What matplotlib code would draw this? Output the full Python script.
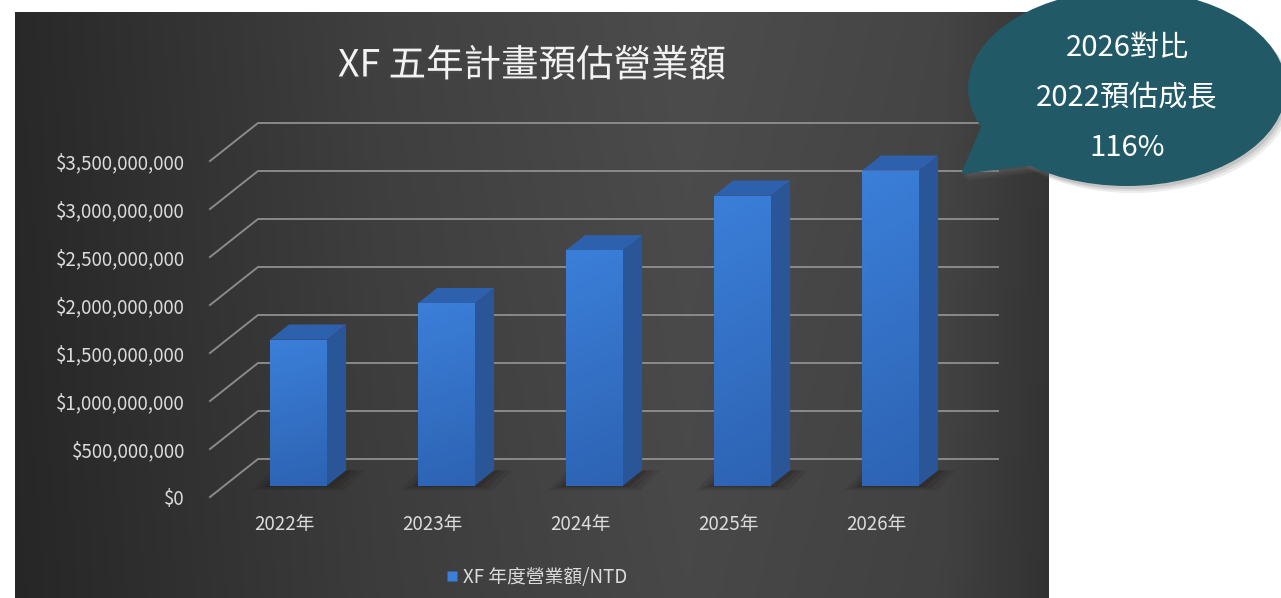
import numpy as np
import matplotlib.pyplot as plt
from matplotlib.patches import Polygon, Ellipse
from matplotlib.lines import Line2D
from matplotlib.colors import LinearSegmentedColormap
import matplotlib.patheffects as pe

plt.rcParams['font.family'] = ['Noto Sans CJK TC', 'DejaVu Sans']

# data
years = ["2022年", "2023年", "2024年", "2025年", "2026年"]
revenue = [1.52e9, 1.90e9, 2.45e9, 3.02e9, 3.28e9]
y_ticks = [0, 5e8, 1e9, 1.5e9, 2e9, 2.5e9, 3e9, 3.5e9]
series_name = "XF 年度營業額/NTD"
chart_title = "XF 五年計畫預估營業額"
callout_lines = ["2026對比", "2022預估成長", "116%"]

W, H = 1281, 598
fig = plt.figure(figsize=(W / 100, H / 100), dpi=100, facecolor='white')

# dark panel with soft gradient
bg = fig.add_axes([15 / W, 0, (1049 - 15) / W, (598 - 12) / H])
xs = np.linspace(0, 1, 300)
prof = np.interp(xs, [0, 0.35, 0.65, 0.9, 1], [0.16, 0.25, 0.30, 0.27, 0.21])
ys = np.linspace(0, 1, 100)[:, None]
shade = prof[None, :] * (0.94 + 0.06 * ys)
bg.imshow(np.dstack([shade] * 3), aspect='auto', extent=[0, 1, 0, 1], origin='lower')
bg.set_xlim(0, 1)
bg.set_ylim(0, 1)
bg.axis('off')

# front plane of the 3D box
ax = fig.add_axes([210 / W, 101 / H, 740 / W, 336 / H])
ax.set_facecolor('none')
ymax = 3.5e9
px_x = 740 / 5          # pixels per category
px_y = 336 / ymax       # pixels per unit value
dx = 48 / px_x          # depth offset, data units
dy = 38 / px_y

grid_col = '#8a8a8a'
for v in y_ticks:
    ax.plot([-0.5, -0.5 + dx, 4.5 + dx], [v, v + dy, v + dy], color=grid_col,
            lw=1.4, clip_on=False, zorder=1)

bw = 57 / px_x
f0, bd = 0.30, 0.40
front_cmap = LinearSegmentedColormap.from_list('front', ['#2d63b3', '#3b7fd9'])
for i, v in enumerate(revenue):
    x0 = i - bw / 2 + f0 * dx
    x1 = x0 + bw
    y0 = f0 * dy
    ddx, ddy = bd * dx, bd * dy
    # base shadow
    for k, a in enumerate([0.10, 0.14, 0.2]):
        g = (3 - k) * 0.04
        ax.add_patch(Polygon([(x0 - g, y0 - g * 0.4e9), (x1 + g, y0 - g * 0.4e9),
                              (x1 + ddx + g, y0 + ddy), (x0 + ddx - g, y0 + ddy)],
                             closed=True, fc='#1a1210', ec='none', alpha=a,
                             zorder=2, clip_on=False))
    grad = np.linspace(0, 1, 100)[:, None] * np.ones((1, 10))
    grad = grad * 0.8 + 0.2 * np.linspace(1, 0.6, 10)[None, :]
    ax.imshow(grad, cmap=front_cmap, aspect='auto', origin='lower',
              extent=[x0, x1, y0, y0 + v], zorder=4, clip_on=False)
    ax.add_patch(Polygon([(x1, y0), (x1 + ddx, y0 + ddy), (x1 + ddx, y0 + v + ddy),
                          (x1, y0 + v)], closed=True, fc='#2a5597', ec='none',
                         zorder=3, clip_on=False))
    ax.add_patch(Polygon([(x0, y0 + v), (x1, y0 + v), (x1 + ddx, y0 + v + ddy),
                          (x0 + ddx, y0 + v + ddy)], closed=True, fc='#2e61ad',
                         ec='none', zorder=3, clip_on=False))

ax.set_xlim(-0.5, 4.5)
ax.set_ylim(0, ymax)
ax.set_yticks(y_ticks)
ax.set_yticklabels([f"${v:,.0f}" for v in y_ticks])
ax.set_xticks(range(len(years)))
ax.set_xticklabels(years)
ax.tick_params(axis='y', length=0, pad=18, labelsize=13.5, labelcolor='#dcdcdc')
ax.tick_params(axis='x', length=0, pad=12, labelsize=13.5, labelcolor='#dcdcdc')
for s in ax.spines.values():
    s.set_visible(False)

fig.text(532 / W, 1 - 66 / H, chart_title, ha='center', va='center', fontsize=27,
         fontweight='medium', color='#f2f2f2',
         path_effects=[pe.withSimplePatchShadow(offset=(1.5, -1.5), alpha=0.5)])

fig.legend(handles=[Line2D([], [], marker='s', ls='none', markerfacecolor='#3b7fd9',
                           markeredgecolor='none', markersize=7)],
           labels=[series_name], loc='center', bbox_to_anchor=(537 / W, 1 - 577 / H),
           frameon=False, labelcolor='#dcdcdc', fontsize=13.5, handlelength=0.6,
           handletextpad=0.3)

# speech bubble
ov = fig.add_axes([0, 0, 1, 1])
ov.set_xlim(0, W)
ov.set_ylim(H, 0)
ov.axis('off')
tail = [(985, 118), (961, 174), (1035, 165), (1030, 120)]
for off, a in [((6, 7), 0.12), ((4, 5), 0.15), ((2, 3), 0.2)]:
    ov.add_patch(Ellipse((1127 + off[0], 88 + off[1]), 318, 196, fc='#6f6f6f', alpha=a, ec='none'))
    ov.add_patch(Polygon([(p[0] + off[0], p[1] + off[1]) for p in tail], fc='#6f6f6f',
                         alpha=a, ec='none'))
ov.add_patch(Ellipse((1127, 88), 318, 196, fc='#215966', ec='none'))
ov.add_patch(Polygon(tail, fc='#215966', ec='none'))
for k, line in enumerate(callout_lines):
    ov.text(1127, 48 + 50 * k, line, ha='center', va='center', fontsize=21,
            fontweight='medium', color='white')

fig.savefig('out.png', dpi=100, facecolor='white')
